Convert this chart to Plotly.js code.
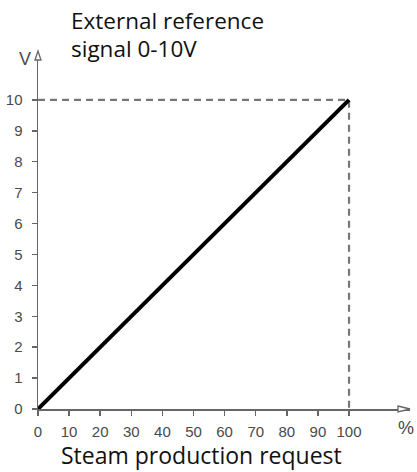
<!DOCTYPE html>
<html><head><meta charset="utf-8">
<script src="https://cdn.plot.ly/plotly-3.0.1.min.js"></script>
<style>html,body{margin:0;padding:0;background:#fff}</style>
</head><body>
<div id="chart" style="width:417px;height:472px"></div>
<script>
// Data
const requestPct = [0, 100];
const signalV = [0, 10];
const refX = [0, 100, 100];
const refY = [10, 10, 0];
const xTicks = [0, 10, 20, 30, 40, 50, 60, 70, 80, 90, 100];
const yTicks = [0, 1, 2, 3, 4, 5, 6, 7, 8, 9, 10];

const W = 417, H = 472, L = 38, R = 7, T = 52, B = 63;
const PW = W - L - R, PH = H - T - B;
const px = x => (x - L) / PW;
const py = y => (H - B - y) / PH;
const gray = '#666';

const traces = [
  {x: refX, y: refY, mode: 'lines', line: {color: '#777', width: 2.2, dash: '7px,5px'}, hoverinfo: 'skip', cliponaxis: false},
  {x: requestPct, y: signalV, mode: 'lines', line: {color: '#000', width: 4}, cliponaxis: false}
];

const layout = {
  width: W, height: H,
  margin: {l: L, r: R, t: T, b: B, pad: 0},
  showlegend: false,
  paper_bgcolor: '#fff', plot_bgcolor: '#fff',
  font: {family: 'Liberation Sans, Arial, sans-serif', color: '#444', size: 13},
  xaxis: {
    range: [0, 119.6], tickvals: xTicks, ticktext: xTicks.map(String),
    showline: true, linecolor: gray, linewidth: 1.5, showgrid: false, zeroline: false,
    ticks: 'outside', ticklen: 5, tickcolor: gray, tickwidth: 1.5,
    tickfont: {family: 'Liberation Sans, Arial, sans-serif', size: 15, color: '#4a4a4a'}, ticklabelstandoff: 3, fixedrange: true
  },
  yaxis: {
    range: [0, 11.55], tickvals: yTicks, ticktext: yTicks.map(String),
    showline: true, linecolor: gray, linewidth: 1.5, showgrid: false, zeroline: false,
    ticks: 'outside', ticklen: 5, tickcolor: gray, tickwidth: 1.5,
    tickfont: {family: 'Liberation Sans, Arial, sans-serif', size: 15, color: '#4a4a4a'}, ticklabelstandoff: 6, fixedrange: true
  },
  shapes: [
    {type: 'path', xref: 'paper', yref: 'paper', line: {color: gray, width: 1.3}, fillcolor: '#fff',
     path: `M ${px(35)} ${py(60)} L ${px(38)} ${py(51)} L ${px(41)} ${py(60)} Z`},
    {type: 'path', xref: 'paper', yref: 'paper', line: {color: gray, width: 1.3}, fillcolor: '#fff',
     path: `M ${px(398)} ${py(406)} L ${px(410)} ${py(409)} L ${px(398)} ${py(412)} Z`}
  ],
  annotations: [
    {xref: 'paper', yref: 'paper', x: px(69), y: py(20), xanchor: 'left', yanchor: 'middle', showarrow: false,
     text: 'External reference', font: {family: 'Open Sans, sans-serif', size: 22.5, color: '#111'}},
    {xref: 'paper', yref: 'paper', x: px(69), y: py(48), xanchor: 'left', yanchor: 'middle', showarrow: false,
     text: 'signal 0-10V', font: {family: 'Open Sans, sans-serif', size: 22.5, color: '#111'}},
    {xref: 'paper', yref: 'paper', x: px(201), y: py(455), xanchor: 'center', yanchor: 'middle', showarrow: false,
     text: 'Steam production request', font: {family: 'Open Sans, sans-serif', size: 23, color: '#111'}},
    {xref: 'paper', yref: 'paper', x: px(25), y: py(59), xanchor: 'center', yanchor: 'middle', showarrow: false,
     text: 'V', font: {family: 'Liberation Sans, Arial, sans-serif', size: 18, color: '#4a4a4a'}},
    {xref: 'paper', yref: 'paper', x: px(406), y: py(428), xanchor: 'center', yanchor: 'middle', showarrow: false,
     text: '%', font: {family: 'Liberation Sans, Arial, sans-serif', size: 18, color: '#4a4a4a'}}
  ]
};

Plotly.newPlot('chart', traces, layout, {displayModeBar: false, staticPlot: true});
</script>
</body></html>
